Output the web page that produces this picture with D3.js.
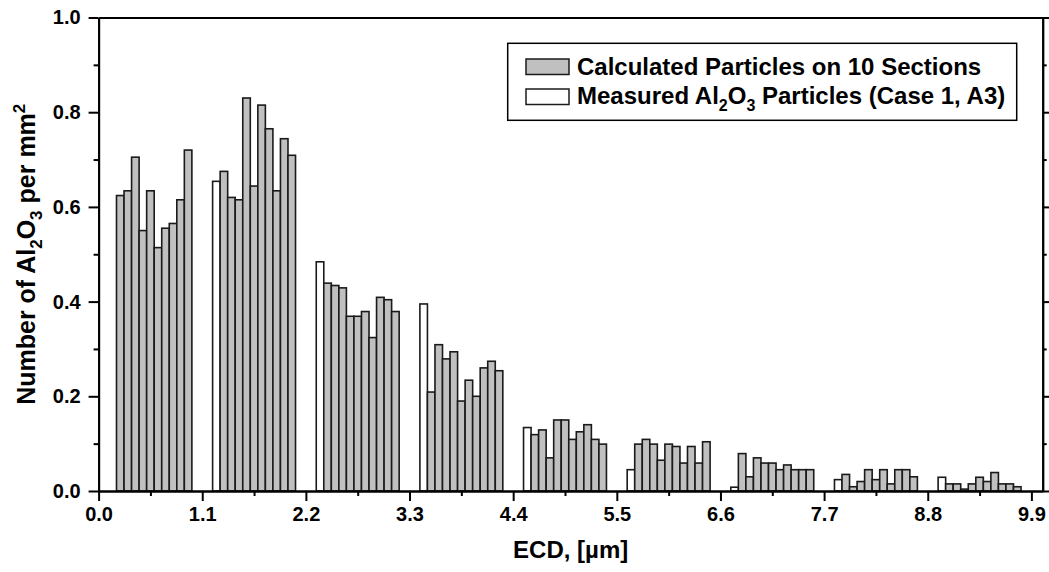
<!DOCTYPE html>
<html>
<head>
<meta charset="utf-8">
<script src="https://cdn.jsdelivr.net/npm/d3@7"></script>
<style>
  body { margin: 0; background: #fff; }
  svg { display: block; font-family: "Liberation Sans", Arial, sans-serif; font-weight: bold; }
</style>
</head>
<body>
<svg width="1049" height="572"></svg>
<script>
// ECD bins (lower edge, µm)
const binStarts = [0.0, 1.1, 2.2, 3.3, 4.4, 5.5, 6.6, 7.7, 8.8];

// measured Al2O3 particles (Case 1, A3), one per bin
const measured = [0.0, 0.654, 0.484, 0.395, 0.134, 0.045, 0.008, 0.024, 0.029];

// calculated particles, 10 sections per bin
const calculated = [
  [0.624, 0.634, 0.705, 0.550, 0.634, 0.514, 0.555, 0.565, 0.615, 0.720],
  [0.675, 0.620, 0.615, 0.830, 0.644, 0.815, 0.765, 0.634, 0.744, 0.709],
  [0.439, 0.434, 0.429, 0.369, 0.369, 0.379, 0.324, 0.409, 0.404, 0.379],
  [0.209, 0.309, 0.279, 0.294, 0.190, 0.234, 0.200, 0.260, 0.274, 0.254],
  [0.119, 0.129, 0.070, 0.150, 0.150, 0.109, 0.125, 0.140, 0.109, 0.099],
  [0.099, 0.109, 0.099, 0.065, 0.099, 0.094, 0.059, 0.094, 0.059, 0.104],
  [0.079, 0.030, 0.070, 0.059, 0.059, 0.045, 0.055, 0.045, 0.045, 0.045],
  [0.035, 0.009, 0.020, 0.045, 0.024, 0.045, 0.015, 0.045, 0.045, 0.030],
  [0.015, 0.015, 0.004, 0.015, 0.029, 0.020, 0.039, 0.015, 0.015, 0.009]
];

const xTicks = [0.0, 1.1, 2.2, 3.3, 4.4, 5.5, 6.6, 7.7, 8.8, 9.9];
const xMinor = [0.55, 1.65, 2.75, 3.85, 4.95, 6.05, 7.15, 8.25, 9.35];
const yTicks = [0.0, 0.2, 0.4, 0.6, 0.8, 1.0];
const yMinor = [0.1, 0.3, 0.5, 0.7, 0.9];

const legendLabels = ["Calculated Particles on 10 Sections", "Measured Al2O3 Particles (Case 1, A3)"];

const barW = 0.08;
const barOffset = 0.11;

const svg = d3.select("svg");
const m = { left: 98.6, right: 1042.7, top: 17.5, bottom: 491 };

// prettier-ignore
const x = d3.scaleLinear()
    .domain([0, 10.02])
    .range([m.left, m.right])

// prettier-ignore
const y = d3.scaleLinear()
    .domain([0, 1])
    .range([m.bottom, m.top])

// flatten bins into bars: first measured (white), then 10 calculated (grey)
const bars = [];
binStarts.forEach((b, k) => {
  bars.push({ x0: b + barOffset, v: measured[k], kind: "measured" });
  calculated[k].forEach((v, j) => {
    bars.push({ x0: b + barOffset + barW * (j + 1), v: v, kind: "calc" });
  });
});

// prettier-ignore
svg.append("g")
    .attr("class", "bars")
  .selectAll("rect")
  .data(bars)
  .join("rect")
    .attr("x", d => x(d.x0))
    .attr("y", d => y(d.v))
    .attr("width", d => x(d.x0 + barW) - x(d.x0))
    .attr("height", d => y(0) - y(d.v))
    .attr("fill", d => d.kind === "calc" ? "#c0c0c0" : "#ffffff")
    .attr("stroke", "#1a1a1a")
    .attr("stroke-width", 1.6)

const fmt = d3.format(".1f");

const styleAxis = (g) => {
  g.select(".domain").attr("stroke", "#000").attr("stroke-width", 2);
  g.selectAll(".tick line").attr("stroke", "#000").attr("stroke-width", 2);
  g.selectAll(".tick text").attr("fill", "#000").attr("font-size", 20);
};

// bottom axis
// prettier-ignore
svg.append("g")
    .attr("transform", `translate(0,${m.bottom})`)
    .call(d3.axisBottom(x).tickValues(xTicks).tickFormat(fmt).tickSize(10).tickSizeOuter(0).tickPadding(6))
    .call(styleAxis)
svg.append("g")
  .attr("transform", `translate(0,${m.bottom})`)
  .call(d3.axisBottom(x).tickValues(xMinor).tickFormat("").tickSize(5).tickSizeOuter(0))
  .call(styleAxis);

// left axis
// prettier-ignore
svg.append("g")
    .attr("transform", `translate(${m.left},0)`)
    .call(d3.axisLeft(y).tickValues(yTicks).tickFormat(fmt).tickSize(10).tickSizeOuter(0).tickPadding(8))
    .call(styleAxis)
svg.append("g")
  .attr("transform", `translate(${m.left},0)`)
  .call(d3.axisLeft(y).tickValues(yMinor).tickFormat("").tickSize(5).tickSizeOuter(0))
  .call(styleAxis);

// top and right frame axes, ticks only
svg.append("g")
  .attr("transform", `translate(0,${m.top})`)
  .call(d3.axisTop(x).tickValues(xTicks.concat(xMinor)).tickFormat("").tickSize(0).tickSizeOuter(0))
  .call(styleAxis);
svg.append("g")
  .attr("transform", `translate(${m.right},0)`)
  .call(d3.axisRight(y).tickValues(yTicks).tickFormat("").tickSize(8).tickSizeOuter(0))
  .call(styleAxis);
svg.append("g")
  .attr("transform", `translate(${m.right},0)`)
  .call(d3.axisRight(y).tickValues(yMinor).tickFormat("").tickSize(4).tickSizeOuter(0))
  .call(styleAxis);

// axis titles
// prettier-ignore
svg.append("text")
    .attr("x", (m.left + m.right) / 2)
    .attr("y", 558)
    .attr("text-anchor", "middle")
    .attr("font-size", 24)
    .text("ECD, [µm]")

const yTitle = svg.append("text")
  .attr("transform", `translate(35,${(m.top + m.bottom) / 2}) rotate(-90)`)
  .attr("text-anchor", "middle")
  .attr("font-size", 25);
yTitle.append("tspan").text("Number of Al");
yTitle.append("tspan").attr("dy", 7).attr("font-size", 17).text("2");
yTitle.append("tspan").attr("dy", -7).text("O");
yTitle.append("tspan").attr("dy", 7).attr("font-size", 17).text("3");
yTitle.append("tspan").attr("dy", -7).text(" per mm");
yTitle.append("tspan").attr("dy", -10).attr("font-size", 17).text("2");

// legend
const legend = svg.append("g").attr("class", "legend");
legend.append("rect")
  .attr("x", 507.7).attr("y", 43.3)
  .attr("width", 509).attr("height", 77)
  .attr("fill", "#fff").attr("stroke", "#000").attr("stroke-width", 1.5);

[["#c0c0c0", 59], ["#ffffff", 89]].forEach(([fill, yy]) => {
  legend.append("rect")
    .attr("x", 526).attr("y", yy)
    .attr("width", 43).attr("height", 15.5)
    .attr("fill", fill).attr("stroke", "#1a1a1a").attr("stroke-width", 1.5);
});

legend.append("text")
  .attr("x", 577).attr("y", 74.5)
  .attr("font-size", 24)
  .text(legendLabels[0]);

const l2 = legend.append("text")
  .attr("x", 577).attr("y", 104)
  .attr("font-size", 24);
l2.append("tspan").text("Measured Al");
l2.append("tspan").attr("dy", 7).attr("font-size", 16).text("2");
l2.append("tspan").attr("dy", -7).text("O");
l2.append("tspan").attr("dy", 7).attr("font-size", 16).text("3");
l2.append("tspan").attr("dy", -7).text(" Particles (Case 1, A3)");
</script>
</body>
</html>
